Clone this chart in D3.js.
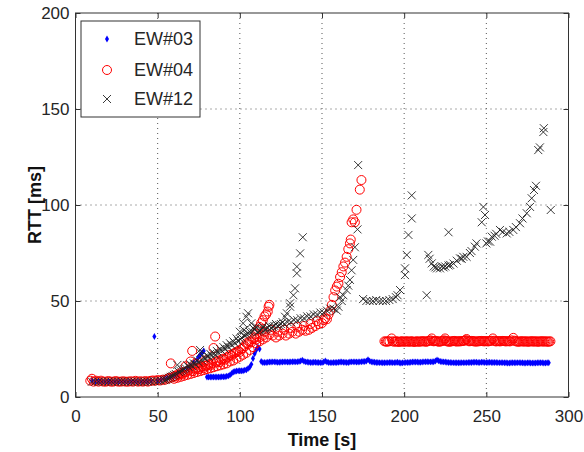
<!DOCTYPE html>
<html><head><meta charset="utf-8">
<script src="https://cdn.jsdelivr.net/npm/d3@7"></script>
<style>body{margin:0;background:#fff}svg{display:block}text{font-family:"Liberation Sans",Arial,sans-serif}</style>
</head><body><svg id="c" width="584" height="452"></svg>
<script>
const xTicks=[0,50,100,150,200,250,300];
const yTicks=[0,50,100,150,200];
const seriesNames=["EW#03","EW#04","EW#12"];
const ew03=[[10,8.5],[12,8],[14,8],[16,8],[18,8],[20,8],[22,8],[24,8],[26,8],[28,8],[30,8],[32,8],[34,8],[36,8],[38,8],[40,8],[42,8],[44,8],[46,8.5],[48,31.5],[50,8.5],[52,9],[54,9.5],[56,10],[58,10.5],[60,11],[62,12],[64,13],[66,14],[68,15],[70,16],[72,18],[74,19.5],[75,21],[76,22],[77,23],[78,24],
[80,10.4],[81,10.4],[82,10.4],[83,10.4],[84,10.4],[85,10.4],[86,10.4],[87,10.4],[88,10.4],[89,10.5],[90,10.6],[91,10.6],[92,10.8],[93,11],[94,11.5],[95,12.2],[96,13],[97,13.3],[98,13.5],[99,13.6],[100,13.7],[101,13.7],[102,13.7],[103,14],[104,14.2],[105,14.8],[106,15.5],[107,17],[108,20],[109,22.5],[110,24.5],[111,26],[112,25],[113,18.5],
[114,18],[115,18],[116,18],[117,18.1],[118,18.2],[119,18.2],[120,18.3],[121,18.3],[122,18.2],[123,18.1],[124,18.1],[125,18.2],[126,18.2],[127,18.3],[128,18.3],[129,18.2],[130,18.2],[131,18.3],[132,18.4],[133,18.4],[134,18.3],[135,18.4],[136,18.5],[137,18.7],[138,19.2],[139,18.6],[140,18.3],[141,18.2],[142,18.1],[143,18],[144,18],[145,18.1],[146,18.1],[147,18],[148,18],[149,17.9],[150,17.9],[151,18.2],[152,18.7],[153,18.2],[154,18],[155,17.9],[156,17.9],[157,18],[158,18],[159,18],[160,18.1],[161,18.2],[162,18.2],[163,18.1],[164,18.1],[165,18],[166,18],[167,18.2],[168,18.3],[169,18.3],[170,18.3],[171,18.2],[172,18.2],[173,18.3],[174,18.4],[175,18.5],[176,18.5],[177,18.8],[178,19.4],[179,18.7],[180,18.3],[181,18.2],[182,18.1],[183,18],[184,18],[185,17.9],[186,17.9],[187,17.8],[188,17.8],[189,17.9],[190,17.9],[191,18],[192,18],[193,17.9],[194,17.9],[195,18],[196,18.1],[197,17.8],[198,17.7],[199,17.8],[200,17.9],[201,18],[202,18],[203,18],[204,18.1],[205,18.2],[206,18.2],[207,18.2],[208,18.2],[209,18.1],[210,18.1],[211,18.2],[212,18.3],[213,18.4],[214,18.4],[215,18.3],[216,18.3],[217,18.4],[218,18.4],[219,18.8],[220,19.3],[221,18.9],[222,18.5],[223,18.4],[224,18.3],[225,18.2],[226,18.1],[227,18],[228,18],[229,17.9],[230,17.9],[231,17.8],[232,17.8],[233,17.8],[234,17.8],[235,17.9],[236,17.9],[237,17.9],[238,17.9],[239,18],[240,18],[241,18],[242,18.1],[243,18.1],[244,18.1],[245,18],[246,18],[247,18.1],[248,18.1],[249,18],[250,18],[251,18],[252,18.1],[253,18],[254,18],[255,18],[256,18],[257,17.9],[258,17.9],[259,17.9],[260,17.9],[261,17.8],[262,17.8],[263,17.7],[264,17.7],[265,17.8],[266,17.8],[267,17.8],[268,17.8],[269,17.9],[270,17.9],[271,17.8],[272,17.8],[273,17.7],[274,17.7],[275,17.8],[276,17.8],[277,17.7],[278,17.7],[279,17.7],[280,17.7],[281,17.8],[282,17.8],[283,17.8],[284,17.8],[285,17.7],[286,17.7],[287,17.8],[288,17.8]];
const ew04=[[9,8.5],[10,9.5],[11,8],[12.5,8.5],[14,8],[15.5,8.5],[17,8],[18.5,8],[20,8.3],[21.5,8],[23,8],[24.5,8.3],[26,8],[27.5,8],[29,8.2],[30.5,8],[32,8],[33.5,8.2],[35,8],[36.5,8.4],[38,8],[39.5,8.2],[41,8],[42.5,8.3],[44,8],[45.5,8.4],[47,8.6],[48.5,8.5],[50,8.8],[51.5,8.6],[53,9],[54.5,9],
[56,9.5],[57,10],[58,17.5],[59,10.3],[60,10.8],[61,11],[62,11.8],[63,11.5],[64,12.5],[65,12],[66,13],[67,12.8],[68,13.5],[69,14],[70,18.5],[71,24],[71.5,13.5],[72,15],[73,14.5],[74,15.2],[75,14.5],[76,15.5],[77,16],[78,15],[79,16.2],[80,16.5],[81,17],[82,16.5],[83,17.5],[84,25.5],[85,31.5],[85.5,18],[86,18.5],[87,19],[88,18.2],[89,19.5],[90,20],[91,19.5],[92,20.5],[93,21],[94,22],[95,21.5],[96,22.5],[97,23],[98,23.5],[99,24],[100,23.5],[101,25],[102,25.5],[103,26.5],[104,28],[105,27.5],[106,29],[107,28.5],[108,30],[109,31],[110,33],[111,35],[112,36.5],[113,38.5],[114,40],[115,42],[116,43],[117,44.5],[117.5,47],[118,48],
[60,9.5],[62,10],[64,10.5],[66,11],[67,16],[68,11.5],[70,12],[72,12.5],[73,17.5],[74,13],[76,13.5],[78,14],[79,19],[80,14.5],[82,15],[84,15.5],[86,16],[88,16.5],[90,17],[92,17.5],[94,18.5],[96,19],[98,20],[100,21],[102,22],[104,23],[106,24.5],[108,26],[110,28],[112,29],[114,30],
[110,30],[112,31],[114,32],[115,34],[116,31],[118,32.5],[119,35],[120,32],[122,31],[123,34],[124,32],[126,33],[127,35],[128,32],[130,33],[131,36],[132,34],[134,33],[135,36.5],[136,34],[138,35],[139,37],[140,34.5],[142,35],[143,38],[144,36],[146,37],[147,39.5],[148,38],[150,38.5],[151,40],[152,41],[153,40.5],[154,43],[155,45],[156,48],[157,52],[158,55.5],[159,57.5],[160,59],[161,62.5],[162,65],[163,68],[164,70],[165,73],[166,77],[167,80],[167.5,82],[168,91],[169,92.5],[170,91],[171,97.5],[173,108],[174,113],
[188,29],[188.8,28.9],[189.5,28.8],[190.2,29],[191,29],[192.4,30.5],[193,29],[194,28.8],[194.8,28.9],[195.5,29],[196.2,28.8],[197,28.7],[197.8,28.9],[198.5,29],[199.2,28.9],[200,28.8],[200.8,28.9],[201.5,29],[202.2,28.9],[203,28.8],[203.8,28.9],[204.5,29],[205.2,28.9],[206,28.7],[206.8,28.8],[207.5,29],[208.2,28.9],[209,28.8],[209.8,28.9],[210.5,29],[211.2,29],[212,29],[212.8,28.9],[213.5,28.8],[214.2,29],[215,29.2],[216,29.5],[216.8,30.5],[217.4,29.2],[218,29],[218.8,29.1],[219.5,29.2],[220.2,29],[221,28.8],[221.8,28.9],[222.5,29],[223.3,29.2],[224.1,29.5],[224.9,30.5],[225.5,29.3],[226,29],[226.8,28.9],[227.5,28.8],[228.2,28.9],[229,29],[229.8,29.1],[230.5,29.2],[231.2,29],[232,28.9],[232.8,29],[233.5,29],[234.2,29],[235,29.1],[235.8,29.2],[236.5,29.3],[237.2,29.6],[238,30.2],[238.8,29.4],[239.5,29],[240.2,29.1],[241,29.2],[241.8,29.1],[242.5,29],[243.2,28.9],[244,28.9],[244.8,29],[245.5,29],[246.2,29.1],[247,29.2],[247.8,29.1],[248.5,29],[249.2,29],[250,29.1],[250.8,29],[251.5,29],[252.2,29.2],[253,29.3],[254,30.5],[254.8,29.3],[255.5,29],[256.2,29],[257,29.1],[257.8,29],[258.5,29],[259.2,29.1],[260,29.2],[260.8,29.1],[261.5,29],[262.2,29],[263,29.1],[263.8,29],[264.5,29],[265.4,29.5],[266.4,30.8],[267.2,29.3],[268,29],[268.8,28.9],[269.5,28.8],[270.2,28.9],[271,29],[271.8,29],[272.5,28.9],[273.2,28.9],[274,29],[274.8,28.9],[275.5,28.8],[276.2,28.9],[277,29],[277.8,29],[278.5,28.9],[279.2,28.9],[280,29],[280.8,28.9],[281.5,28.8],[282.2,28.9],[283,29],[283.8,29],[284.5,28.9],[285.2,28.9],[286,29],[286.8,28.9],[287.5,28.8],[288.2,28.9],[289,29]];
const ew12=[[10,8],[12,8],[14,8],[16,8],[18,8],[20,8],[22,8],[24,8],[26,8],[28,8],[30,8],[32,8],[34,8],[36,8],[38,8],[40,8],[42,8],[44,8],[46,8],[48,8.2],[50,8.3],[52,8.5],[54,8.8],
[55,9],[57,10],[59,11],[61,12],[62,16.7],[63,13],[65,14],[67,15],[69,15.5],[71,16],[73,17],[75,18],[76,23],[75.8,24.5],[77,19],[79,20],[81,21],[83,21.5],[85,22],[87,23],[89,24],[91,25],[93,26],[95,27],[97,28],[99,29],[100,34],[100.5,30],[101,31],[102,38.4],[102.5,34.9],[103,32],[104,41.8],[105,43.6],[105.5,33],[107,38.4],[107.5,34],[109,35],[111,34],[113,35],[115,35],[117,36],[119,36],[121,37],[123,37],[125,38],[127,38],[127.5,41.8],[128.6,43.6],[130.6,47],[130.6,48.8],[132.6,53],[133.6,56.6],[134.7,64.4],[134.7,67.9],[136.7,74.8],[138.3,83.2],
[56,9.5],[58,10.5],[60,11.5],[64,13.5],[66,14.5],[68,16.5],[70,17],[72,17.5],[74,19],[78,20.5],[80,21.5],[82,22.5],[84,23],[86,24],[88,25],[90,26],[92,27],[94,28],[96,29],[98,30.5],[104,32.5],[106,34],[108,36],[110,36.5],[112,34.5],[114,36.5],[116,35.5],[118,37],[120,36.5],[122,38],[124,37.5],[126,39],
[129,39],[131,39],[133,40],[135,40],[137,41],[139,41],[141,42],[143,42],[145,43],[147,43],[149,44],[151,44],[153,45],[155,46],[157,46],[159,45],[160,47],[161,52],[162,50],[163,53],[165,55.7],[166,58],[167,61],[168,66],[169,71.4],[170,78],[171.6,87.3],[172,120.8],
[175,51],[177,50],[179,50],[181,50],[183,50.5],[185,50],[187,50],[189,50],[191,50.5],[193,51],[195,52],[196,53],[197.5,55.7],[200.5,63.5],[200.5,67],[201.6,74],[202.6,84.4],[204.6,93],[204.6,105],
[213.7,53],[214.7,74],[215.5,72],[216.8,69.6],[218,68],[219,67.5],[220,67],[221.8,67],[223,68],[224,67.5],[225,68],[227,85.8],[227,68.5],[228,68.8],[230,69.5],[232,71],[234,72.2],[235,72],[236,73],[238,73],[240,75],[241,76],[243,78.3],[244,80],
[247.2,91],[248.2,99],[249.2,94.8],[250,80],[251,81],[252.3,80.9],[253.3,83.5],[255,84],[256,85],[258.3,87],[260,86],[262.4,85.2],[264,86],[266.4,87],[268,88.5],[270.5,90.5],[272,93],[274.6,95.7],[276.6,99],[277.6,103.5],[279,107.8],[280.2,110],[281.6,128.6],[282.6,130],[284.7,138],[285,140],[289.2,97.4]];

const svg=d3.select("#c");
const L=75.5,R=568.5,T=13,B=397;
const x=d3.scaleLinear().domain([0,300]).range([L,R]);
const y=d3.scaleLinear().domain([0,200]).range([B,T]);
const ink="#262626";

const g=svg.append("g");
xTicks.slice(1,-1).forEach(v=>g.append("line").attr("x1",x(v)).attr("x2",x(v)).attr("y1",T).attr("y2",B).attr("stroke","#555").attr("stroke-dasharray","1,4"));
yTicks.slice(1,-1).forEach(v=>g.append("line").attr("y1",y(v)).attr("y2",y(v)).attr("x1",L).attr("x2",R).attr("stroke","#555").attr("stroke-dasharray","1,4"));

const dg=svg.append("g");
dg.selectAll(".b").data(ew03).enter().append("path").attr("d",d3.symbol(d3.symbolDiamond,14)).attr("transform",d=>`translate(${x(d[0])},${y(d[1])})`).attr("fill","#0000ff");
dg.selectAll(".r").data(ew04).enter().append("circle").attr("cx",d=>x(d[0])).attr("cy",d=>y(d[1])).attr("r",4.5).attr("fill","none").attr("stroke","#ff0000").attr("stroke-width",1);
const xm=4;
dg.selectAll(".k").data(ew12).enter().append("path").attr("d",`M${-xm},${-xm}L${xm},${xm}M${-xm},${xm}L${xm},${-xm}`).attr("transform",d=>`translate(${x(d[0])},${y(d[1])})`).attr("stroke","#222").attr("stroke-width",0.9).attr("fill","none");

const ax=svg.append("g").attr("transform",`translate(0,${B})`).call(d3.axisBottom(x).tickValues(xTicks).tickSizeInner(-5).tickSizeOuter(0).tickPadding(13));
const ay=svg.append("g").attr("transform",`translate(${L},0)`).call(d3.axisLeft(y).tickValues(yTicks).tickSizeInner(-5).tickSizeOuter(0).tickPadding(6));
const at=svg.append("g").attr("transform",`translate(0,${T})`).call(d3.axisTop(x).tickValues(xTicks).tickSizeInner(-5).tickSizeOuter(0).tickFormat(""));
const ar=svg.append("g").attr("transform",`translate(${R},0)`).call(d3.axisRight(y).tickValues(yTicks).tickSizeInner(-5).tickSizeOuter(0).tickFormat(""));
[ax,ay,at,ar].forEach(a=>{a.select(".domain").remove();a.selectAll("line").attr("stroke","#333");a.selectAll("text").attr("fill",ink).style("font-size","17px").style("font-family","Liberation Sans, Arial, sans-serif");});
svg.append("rect").attr("x",L).attr("y",T).attr("width",R-L).attr("height",B-T).attr("fill","none").attr("stroke","#333").attr("stroke-width",1);

svg.append("text").attr("x",(L+R)/2).attr("y",446).attr("text-anchor","middle").attr("font-weight","bold").attr("font-size",18).attr("fill","#111").text("Time [s]");
svg.append("text").attr("transform",`translate(41,${(T+B)/2}) rotate(-90)`).attr("text-anchor","middle").attr("font-weight","bold").attr("font-size",18).attr("fill","#111").text("RTT [ms]");

const lg=svg.append("g");
lg.append("rect").attr("x",81).attr("y",21).attr("width",119).attr("height",96).attr("fill","#fff").attr("stroke","#333");
const ly=[39,70,99];
lg.append("path").attr("d",d3.symbol(d3.symbolDiamond,14)).attr("transform",`translate(107,${ly[0]})`).attr("fill","#0000ff");
lg.append("circle").attr("cx",107).attr("cy",ly[1]).attr("r",4.5).attr("fill","none").attr("stroke","#ff0000");
lg.append("path").attr("d",`M${-xm},${-xm}L${xm},${xm}M${-xm},${xm}L${xm},${-xm}`).attr("transform",`translate(107,${ly[2]})`).attr("stroke","#222").attr("stroke-width",0.9);
seriesNames.forEach((n,i)=>lg.append("text").attr("x",134).attr("y",ly[i]).attr("dy","0.36em").attr("font-size",18).attr("fill",ink).text(n));
</script></body></html>
